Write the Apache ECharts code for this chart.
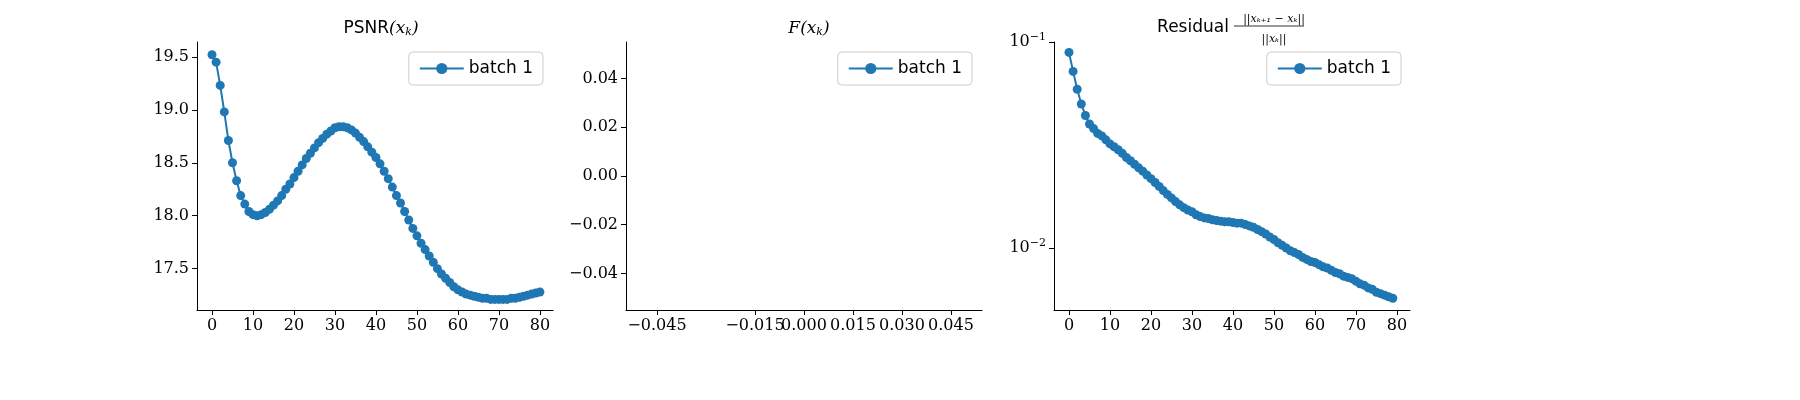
<!DOCTYPE html>
<html><head><meta charset="utf-8">
<script src="https://cdn.jsdelivr.net/npm/echarts@6/dist/echarts.min.js"></script>
<style>html,body{margin:0;padding:0;background:#fff}#c{width:1800px;height:400px}</style>
</head><body><div id="c"></div>
<script>
const iterations = Array.from({length: 81}, (_, i) => i);
const psnr = [19.52,19.45,19.23,18.98,18.71,18.50,18.33,18.19,18.11,18.04,18.01,18.00,18.01,18.03,18.06,18.10,18.14,18.19,18.25,18.30,
18.36,18.42,18.48,18.54,18.59,18.64,18.69,18.73,18.77,18.80,18.83,18.84,18.84,18.83,18.81,18.78,18.74,18.70,18.65,18.60,
18.55,18.49,18.42,18.35,18.27,18.19,18.12,18.04,17.96,17.88,17.81,17.74,17.68,17.62,17.56,17.50,17.45,17.41,17.37,17.33,
17.30,17.28,17.26,17.25,17.24,17.23,17.22,17.22,17.21,17.21,17.21,17.21,17.21,17.22,17.22,17.23,17.24,17.25,17.26,17.27,17.28];
const residual = [0.089,0.072,0.059,0.050,0.044,0.040,0.038,0.036,0.035,0.0335,0.032,0.031,0.030,0.0288,0.0275,0.0265,0.0255,0.0245,0.0236,0.0226,
0.0217,0.0208,0.0199,0.0190,0.0182,0.0175,0.0168,0.0162,0.0157,0.0153,0.0150,0.0145,0.0142,0.0140,0.0139,0.0137,0.0136,0.0135,0.0134,0.0134,
0.0133,0.0132,0.0132,0.0130,0.0128,0.0126,0.0123,0.0120,0.0117,0.0113,0.0110,0.0106,0.0103,0.0100,0.0097,0.0095,0.0093,0.0090,0.0088,0.0086,
0.0085,0.0083,0.0081,0.0080,0.0078,0.0076,0.0075,0.0073,0.0072,0.0071,0.0069,0.0067,0.0066,0.0064,0.0063,0.0061,0.0060,0.0059,0.0058,0.0057];
const xTicks = [0,10,20,30,40,50,60,70,80];
const psnrTicks = [17.5,18.0,18.5,19.0,19.5];
const midXTicks = [-0.045,-0.030,-0.015,0.000,0.015,0.030,0.045];
const midYTicks = [-0.04,-0.02,0.00,0.02,0.04];
const seriesName = 'batch 1';

const C = '#1f77b4';
const serif = 'DejaVu Serif';
const sans = 'DejaVu Sans';
const fmt = (v, d) => (v < 0 ? '\u2212' : '') + Math.abs(v).toFixed(d);
const axLine = {show: true, onZero: false, lineStyle: {color: '#000', width: 1}};
const tick = {show: true, length: 5, inside: false, lineStyle: {color: '#000'}};
const lab = {color: '#000', fontFamily: serif, fontSize: 16, margin: 8, hideOverlap: false, showMinLabel: true, showMaxLabel: true};
const grids = [
  {left: 197, top: 42, width: 356, height: 268},
  {left: 626, top: 42, width: 356, height: 268},
  {left: 1054, top: 42, width: 356, height: 268}
];
function xAx(i, min, max, ticks, d) {
  return {type: 'value', gridIndex: i, min, max, splitLine: {show: false}, axisLine: axLine,
    axisTick: Object.assign({customValues: ticks}, tick),
    axisLabel: Object.assign({customValues: ticks, formatter: v => fmt(v, d)}, lab)};
}
const T = (extra) => Object.assign({fontWeight: 'normal', color: '#000'}, extra);
const chart = echarts.init(document.getElementById('c'));
chart.setOption({
  animation: false,
  title: [
    {text: '{a|PSNR}{b|(x}{c|k}{b|)}', left: 376, top: 14, textAlign: 'center',
      textStyle: T({rich: {a: T({fontFamily: sans, fontSize: 17}), b: T({fontFamily: serif, fontStyle: 'italic', fontSize: 17}), c: T({fontFamily: serif, fontStyle: 'italic', fontSize: 11, padding: [8,0,0,0]})}})},
    {text: '{b|F(x}{c|k}{b|)}', left: 804, top: 14, textAlign: 'center',
      textStyle: T({rich: {b: T({fontFamily: serif, fontStyle: 'italic', fontSize: 17}), c: T({fontFamily: serif, fontStyle: 'italic', fontSize: 11, padding: [8,0,0,0]})}})},
    {text: 'Residual', left: 1188, top: 14, textAlign: 'center', textStyle: T({fontFamily: sans, fontSize: 17})},
    {text: '||x\u2096\u208A\u2081 \u2212 x\u2096||', left: 1269, top: 9, textAlign: 'center', textStyle: T({fontFamily: serif, fontStyle: 'italic', fontSize: 11})},
    {text: '||x\u2096||', left: 1269, top: 29, textAlign: 'center', textStyle: T({fontFamily: serif, fontStyle: 'italic', fontSize: 11})}
  ],
  graphic: [{type: 'line', shape: {x1: 1234, y1: 26, x2: 1304, y2: 26}, style: {stroke: '#000', lineWidth: 0.8}}],
  legend: [0,1,2].map(i => ({data: [seriesName], right: [1257, 828, 399][i], top: 52,
    padding: [8, 10], itemWidth: 44, itemHeight: 14, itemGap: 10,
    borderColor: '#ccc', borderWidth: 1, borderRadius: 4, backgroundColor: '#fff',
    textStyle: {fontFamily: sans, fontSize: 17, color: '#000'}})),
  grid: grids,
  xAxis: [
    xAx(0, -3.66, 83.2, xTicks, 0),
    xAx(1, -0.0545, 0.0545, midXTicks, 3),
    xAx(2, -3.66, 83.2, xTicks, 0)
  ],
  yAxis: [
    {type: 'value', gridIndex: 0, min: 17.11, max: 19.64, splitLine: {show: false}, axisLine: axLine,
      axisTick: Object.assign({customValues: psnrTicks}, tick),
      axisLabel: Object.assign({customValues: psnrTicks, formatter: v => v.toFixed(1)}, lab)},
    {type: 'value', gridIndex: 1, min: -0.055, max: 0.055, splitLine: {show: false}, axisLine: axLine,
      axisTick: Object.assign({customValues: midYTicks}, tick),
      axisLabel: Object.assign({customValues: midYTicks, formatter: v => fmt(v, 2)}, lab)},
    {type: 'log', logBase: 10, gridIndex: 2, min: 0.005, max: 0.1, splitLine: {show: false}, axisLine: axLine,
      axisTick: tick, minorTick: {show: false},
      axisLabel: Object.assign({}, lab, {showMinLabel: false,
        formatter: v => Math.abs(v - 0.01) < 1e-6 ? '10{s|\u22122}' : (Math.abs(v - 0.1) < 1e-6 ? '10{s|\u22121}' : ''),
        rich: {s: {fontFamily: serif, fontSize: 11, color: '#000', padding: [0,0,10,0]}}})}
  ],
  series: [
    {name: seriesName, type: 'line', xAxisIndex: 0, yAxisIndex: 0, data: iterations.map((x, i) => [x, psnr[i]]),
      symbol: 'circle', symbolSize: 9, itemStyle: {color: C}, lineStyle: {color: C, width: 2}},
    {name: seriesName, type: 'line', xAxisIndex: 1, yAxisIndex: 1, data: [],
      symbol: 'circle', symbolSize: 9, itemStyle: {color: C}, lineStyle: {color: C, width: 2}},
    {name: seriesName, type: 'line', xAxisIndex: 2, yAxisIndex: 2, data: residual.map((y, i) => [iterations[i], y]),
      symbol: 'circle', symbolSize: 9, itemStyle: {color: C}, lineStyle: {color: C, width: 2}}
  ]
});
</script></body></html>
